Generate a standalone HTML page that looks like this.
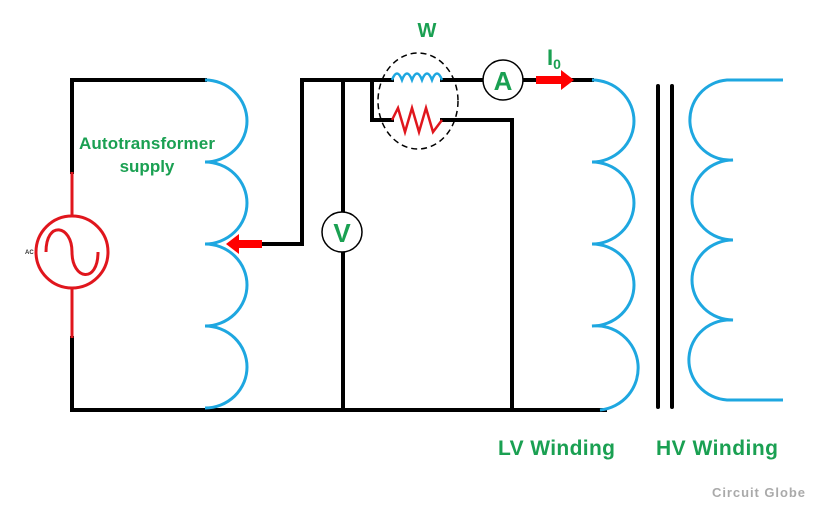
<!DOCTYPE html>
<html><head><meta charset="utf-8"><style>
html,body{margin:0;padding:0;background:#fff;}
svg{display:block;}
text{font-family:"Liberation Sans",sans-serif;font-weight:bold;}
</style></head><body>
<svg width="834" height="516" viewBox="0 0 834 516" xmlns="http://www.w3.org/2000/svg">
<rect width="834" height="516" fill="#fff"/>
<g stroke="#000" stroke-width="4" fill="none" stroke-linecap="square">
<polyline points="72,172 72,80 205,80"/>
<polyline points="72,338 72,410 605,410"/>
<polyline points="262,244 302,244 302,80 392,80"/>
<line x1="343" y1="80" x2="343" y2="410"/>
<polyline points="372,80 372,120 392,120"/>
<polyline points="442,120 512,120 512,410"/>
<line x1="442" y1="80" x2="484" y2="80"/>
<line x1="523" y1="80" x2="592" y2="80"/>
<line x1="658" y1="86" x2="658" y2="407" stroke-linecap="round"/>
<line x1="672" y1="86" x2="672" y2="407" stroke-linecap="round"/>
</g>
<g stroke="#1ea7e0" stroke-width="3" fill="none">
<path d="M205,80 A42,41 0 0 1 205,162 A42,41 0 0 1 205,244 A42,41 0 0 1 205,326 A42,41 0 0 1 205,408"/>
<path d="M592,80 A42,41 0 0 1 592,162 A42,41 0 0 1 592,244 A42,41 0 0 1 592,326 A42,42 0 0 1 600,410"/>
<path d="M783,80 L727,80 A40,40 0 0 0 733,160 A41,40 0 0 0 733,240 A41,40 0 0 0 733,320 A41,40 0 0 0 727,400 L783,400"/>
<path d="M392,80 q5,-13 10,0 q5,-13 10,0 q5,-13 10,0 q5,-13 10,0 q5,-13 10,0" stroke-width="2.5"/>
</g>
<g stroke="#e0161d" stroke-width="3" fill="none">
<line x1="72" y1="172" x2="72" y2="216"/>
<line x1="72" y1="288" x2="72" y2="338"/>
<circle cx="72" cy="252" r="36"/>
<path d="M46,252 C46,220 72,225 72,252 C72,280 98,284 98,252" stroke-width="3"/>
<polyline points="392,120 398,108 405,132 412,108 419,132 426,108 433,132 442,120" stroke-width="2.5"/>
</g>
<polygon points="226,244 239,234 239,240 262,240 262,248 239,248 239,254" fill="#f00"/>
<polygon points="574,80 561,70 561,76 536,76 536,84 561,84 561,90" fill="#f00"/>
<ellipse cx="418" cy="101" rx="40" ry="48" fill="none" stroke="#000" stroke-width="1.5" stroke-dasharray="6,4"/>
<circle cx="342" cy="232" r="20" fill="#fff" stroke="#000" stroke-width="1.5"/>
<circle cx="503" cy="80" r="20" fill="#fff" stroke="#000" stroke-width="1.5"/>
<text x="342" y="242" font-size="26" fill="#1aa052" text-anchor="middle">V</text>
<text x="503" y="90" font-size="26" fill="#1aa052" text-anchor="middle">A</text>
<text x="427" y="37" font-size="20" fill="#1aa052" text-anchor="middle">W</text>
<text x="547" y="65" font-size="22" fill="#1aa052">I<tspan font-size="14" dy="4">0</tspan></text>
<text x="79" y="149" font-size="17" fill="#1aa052" textLength="136">Autotransformer</text>
<text x="147" y="172" font-size="17" fill="#1aa052" text-anchor="middle">supply</text>
<text x="25" y="254" font-size="6" fill="#333" font-weight="normal">AC</text>
<text x="498" y="455" font-size="21" fill="#1aa052" textLength="117">LV Winding</text>
<text x="656" y="455" font-size="21" fill="#1aa052" textLength="122">HV Winding</text>
<text x="712" y="497" font-size="13" fill="#aaa" textLength="93">Circuit Globe</text>
</svg>
</body></html>
